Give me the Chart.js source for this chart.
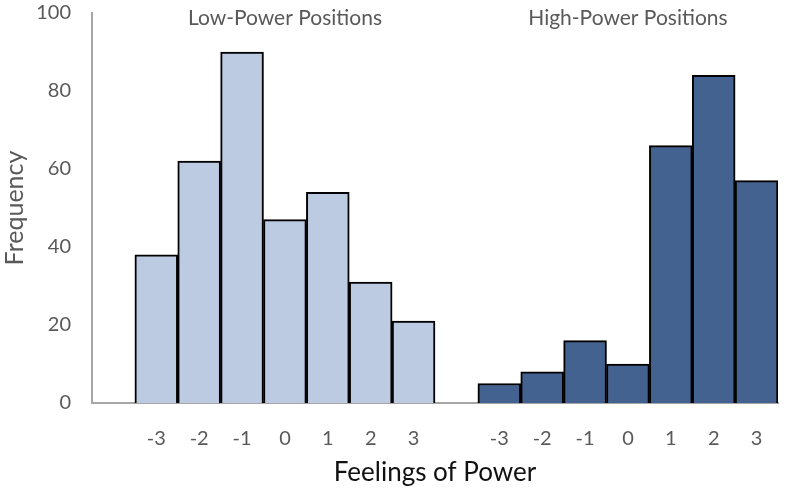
<!DOCTYPE html>
<html>
<head>
<meta charset="utf-8">
<script src="https://cdn.jsdelivr.net/npm/chart.js@4/dist/chart.umd.min.js"></script>
<style>
html,body{margin:0;padding:0;background:#fff;}
#wrap{width:793px;height:488px;}
</style>
</head>
<body>
<div id="wrap"><canvas id="c" width="793" height="488"></canvas></div>
<script>
const categories = ['', '-3', '-2', '-1', '0', '1', '2', '3', '', '-3', '-2', '-1', '0', '1', '2', '3'];
const lowPower  = [null, 38, 62, 90, 47, 54, 31, 21, null, null, null, null, null, null, null, null];
const highPower = [null, null, null, null, null, null, null, null, null, 5, 8, 16, 10, 66, 84, 57];
const groupTitles = ['Low-Power Positions', 'High-Power Positions'];
const yTicks = [0, 20, 40, 60, 80, 100];

const FONT = 'Lato, "Open Sans", sans-serif';

const groupTitlePlugin = {
  id: 'groupTitles',
  afterDraw(chart) {
    const ctx = chart.ctx;
    const x = chart.scales.x;
    ctx.save();
    ctx.font = '21px ' + FONT;
    ctx.fillStyle = '#595959';
    ctx.textAlign = 'center';
    ctx.textBaseline = 'middle';
    ctx.fillText(groupTitles[0], x.getPixelForValue(4), 18);
    ctx.fillText(groupTitles[1], x.getPixelForValue(12), 18);
    ctx.restore();
  }
};

new Chart(document.getElementById('c'), {
  type: 'bar',
  data: {
    labels: categories,
    datasets: [
      { label: groupTitles[0], data: lowPower, backgroundColor: '#bccbe1', borderColor: '#000', borderWidth: 2, barPercentage: 1, categoryPercentage: 1 },
      { label: groupTitles[1], data: highPower, backgroundColor: '#44628f', borderColor: '#000', borderWidth: 2, barPercentage: 1, categoryPercentage: 1 }
    ]
  },
  options: {
    responsive: false,
    animation: false,
    layout: { padding: { top: 0, right: 15, left: 0, bottom: 0 } },
    plugins: { legend: { display: false }, tooltip: { enabled: false } },
    scales: {
      x: {
        stacked: true,
        afterFit(scale) { scale.height = 85; },
        grid: { display: false },
        border: { display: true, color: '#a6a6a6', width: 2 },
        ticks: { color: '#595959', font: { size: 20, family: FONT }, padding: 16, maxRotation: 0, autoSkip: false },
        title: { display: true, text: 'Feelings of Power', color: '#111', font: { size: 26, family: FONT }, padding: { top: 0, bottom: 0 } }
      },
      y: {
        stacked: true,
        min: 0, max: 100,
        afterBuildTicks(scale) { scale.ticks = yTicks.map(v => ({ value: v })); },
        afterFit(scale) { scale.width = 92; scale.paddingTop = 13; },
        grid: { display: false },
        border: { display: true, color: '#a6a6a6', width: 2 },
        ticks: { color: '#595959', font: { size: 20, family: FONT }, padding: 13 },
        title: { display: true, text: 'Frequency', color: '#595959', font: { size: 25, family: FONT }, padding: 0 }
      }
    }
  },
  plugins: [groupTitlePlugin]
});
</script>
</body>
</html>
